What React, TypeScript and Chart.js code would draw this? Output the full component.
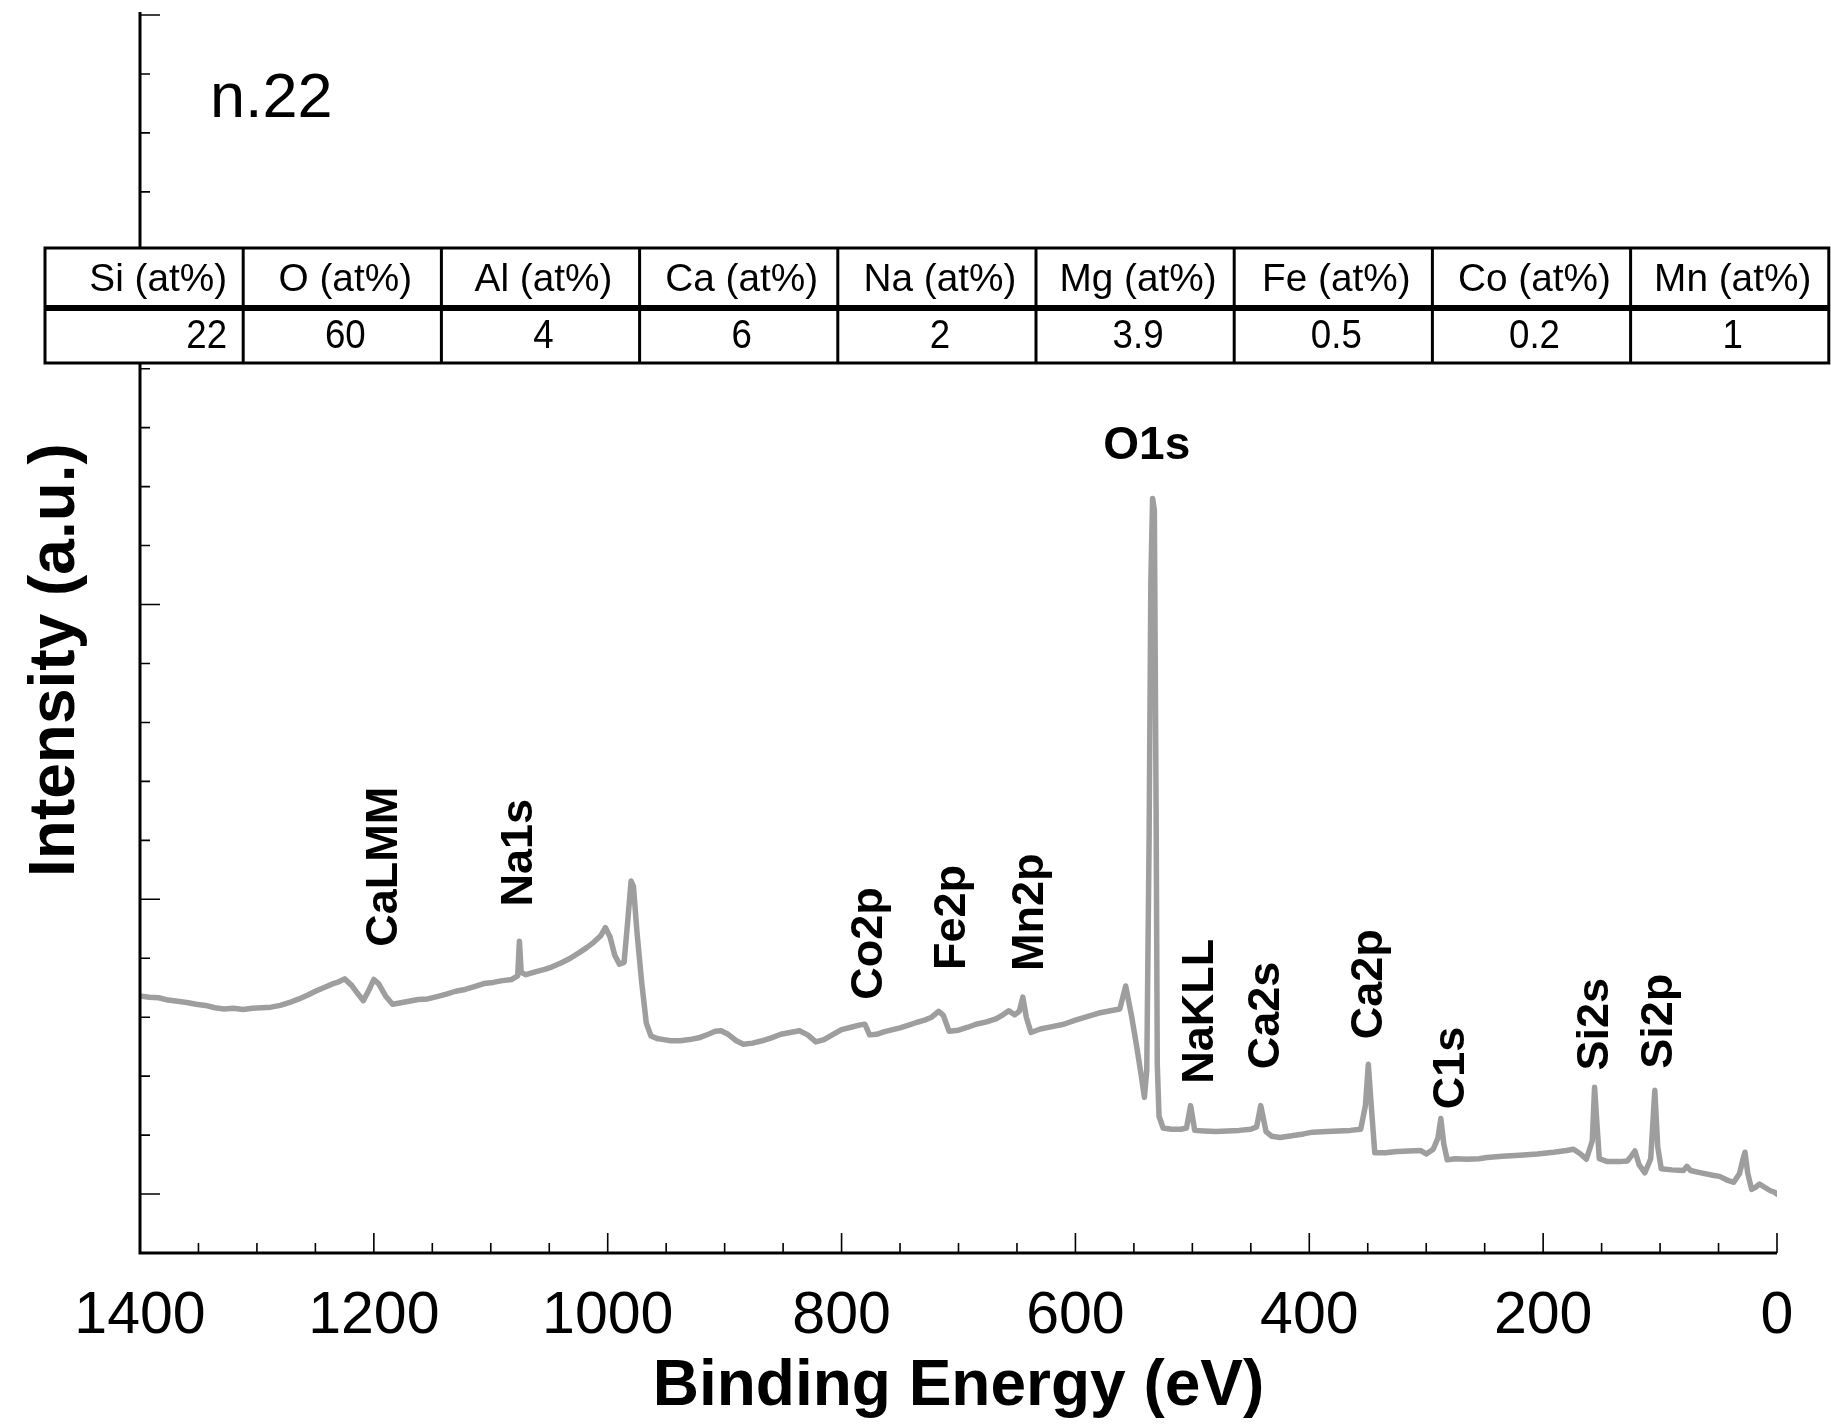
import React, { useEffect, useRef } from "react";
import { Chart, registerables } from "chart.js";

Chart.register(...registerables);

// ---------- data ----------
const energies: number[] = [
  1400, 1392, 1384, 1376, 1368, 1360, 1352, 1344, 1336, 1328, 1320, 1312, 1304, 1296, 1288, 1280,
  1272, 1264, 1256, 1250, 1243, 1236, 1230, 1225, 1219, 1213, 1209, 1204, 1200, 1196, 1190, 1184,
  1178, 1170, 1162, 1154, 1146, 1138, 1130, 1122, 1114, 1106, 1098, 1090, 1082, 1077, 1075.5, 1074,
  1070, 1062, 1054, 1048, 1040, 1032, 1024, 1018, 1012, 1006, 1002, 998, 994, 990, 986, 983,
  980, 978, 975, 971, 967, 963, 958, 952, 946, 938, 930, 922, 914, 908, 903, 897,
  890, 884, 876, 868, 860, 852, 844, 836, 829, 822, 815, 808, 800, 792, 784, 780,
  776, 770, 764, 758, 750, 742, 736, 729, 723, 717, 713, 708, 700, 692, 685, 676,
  668, 662, 657, 652, 648, 645, 642, 638, 630, 620, 610, 600, 590, 580, 570, 562,
  557, 552, 548, 544, 541, 539, 537, 535.5, 534, 532.5, 531, 530, 528.5, 525, 518, 510,
  505, 501.5, 498, 490, 480, 470, 460, 450, 445, 441.5, 437, 432, 425, 415, 405, 397,
  385, 375, 365, 356, 352, 349.5, 347, 344, 335, 325, 315, 305, 300, 294, 290, 287.5,
  285, 282, 275, 265, 255, 248, 235, 220, 205, 191, 180, 174, 168, 163, 158, 156,
  154, 152, 145, 135, 128, 124, 121.5, 118, 113, 108, 104.5, 102, 99, 90, 80, 77,
  74, 65, 55, 49, 42, 37, 32, 29, 27.4, 25, 21.7, 18, 15, 11, 6, 2, 0,
];

const intensities: number[] = [
  3.36, 3.34, 3.33, 3.29, 3.27, 3.25, 3.22, 3.2, 3.16, 3.14, 3.15, 3.13, 3.15, 3.16, 3.17, 3.2,
  3.25, 3.31, 3.38, 3.44, 3.5, 3.56, 3.6, 3.65, 3.54, 3.38, 3.28, 3.47, 3.64, 3.57, 3.36, 3.22,
  3.24, 3.27, 3.3, 3.31, 3.35, 3.39, 3.44, 3.47, 3.52, 3.57, 3.59, 3.62, 3.64, 3.7, 4.29, 3.76,
  3.72, 3.77, 3.81, 3.85, 3.92, 4.0, 4.1, 4.18, 4.27, 4.38, 4.52, 4.36, 4.05, 3.9, 3.93, 4.6,
  5.31, 5.22, 4.45, 3.6, 2.9, 2.68, 2.64, 2.62, 2.6, 2.6, 2.62, 2.65, 2.71, 2.76, 2.77, 2.71,
  2.6, 2.54, 2.56, 2.6, 2.65, 2.71, 2.74, 2.77, 2.7, 2.58, 2.62, 2.7, 2.79, 2.83, 2.87, 2.88,
  2.7, 2.71, 2.75, 2.78, 2.82, 2.87, 2.91, 2.95, 3.0, 3.1, 3.03, 2.76, 2.78, 2.83, 2.88, 2.92,
  2.97, 3.04, 3.11, 3.04, 3.1, 3.34, 3.0, 2.74, 2.8, 2.84, 2.88, 2.95, 3.01, 3.07, 3.11, 3.14,
  3.53, 3.02, 2.55, 2.05, 1.64, 2.1, 6.0, 10.4, 11.8, 11.6, 6.5, 2.2, 1.32, 1.12, 1.1, 1.1,
  1.12, 1.5, 1.08, 1.07, 1.06, 1.07, 1.08, 1.1, 1.14, 1.5, 1.06, 0.98, 0.96, 0.99, 1.02, 1.05,
  1.06, 1.07, 1.08, 1.1, 1.5, 2.2, 1.5, 0.7, 0.7, 0.72, 0.73, 0.74, 0.68, 0.76, 0.95, 1.28,
  0.85, 0.58, 0.6, 0.59, 0.6, 0.62, 0.64, 0.66, 0.68, 0.71, 0.74, 0.76, 0.68, 0.59, 0.9, 1.81,
  1.2, 0.6, 0.55, 0.55, 0.56, 0.66, 0.73, 0.5, 0.36, 0.6, 1.76, 0.8, 0.43, 0.41, 0.4, 0.47,
  0.4, 0.36, 0.32, 0.3, 0.23, 0.2, 0.35, 0.6, 0.71, 0.35, 0.08, 0.12, 0.17, 0.12, 0.06, 0.03, 0.0,
];

const xTickValues: number[] = [1400, 1200, 1000, 800, 600, 400, 200, 0];
const X_MIN = 0;
const X_MAX = 1400;
const Y_MIN = -1;
const Y_MAX = 20;
const X_MINOR_STEP = 50;
const X_MAJOR_STEP = 200;
const Y_MINOR_STEP = 1;
const Y_MAJOR_STEP = 5;

const xTitle = "Binding Energy (eV)";
const yTitle = "Intensity (a.u.)";
const sampleName = "n.22";

const tableHeaders: string[] = [
  "Si (at%)", "O (at%)", "Al (at%)", "Ca (at%)", "Na (at%)", "Mg (at%)", "Fe (at%)", "Co (at%)", "Mn (at%)",
];
const tableValues: string[] = ["22", "60", "4", "6", "2", "3.9", "0.5", "0.2", "1"];

// peak annotations (vertical text), positioned in data coordinates
const peakLabels: string[] = ["CaLMM", "Na1s", "Co2p", "Fe2p", "Mn2p", "NaKLL", "Ca2s", "Ca2p", "C1s", "Si2s", "Si2p"];
const peakLabelEnergy: number[] = [1194.4, 1078.5, 779.4, 708.4, 641.7, 495.8, 439.8, 351.7, 281.5, 158.3, 103.5];
const peakLabelIntensity: number[] = [5.55, 5.79, 4.25, 4.69, 4.78, 3.1, 3.03, 3.56, 2.14, 2.88, 2.93];
// horizontal annotation
const topLabel = "O1s";
const topLabelEnergy = 539;
const topLabelIntensity = 12.47;

const FONT = '"Liberation Sans", Arial, Helvetica, sans-serif';

function scaledText(ctx: CanvasRenderingContext2D, text: string, x: number, y: number, sx: number, sy: number) {
  ctx.save();
  ctx.translate(x, y);
  ctx.scale(sx, sy);
  ctx.fillText(text, 0, 0);
  ctx.restore();
}

const decorPlugin = {
  id: "decor",
  beforeDraw(chart: any) {
    const ctx = chart.ctx;
    ctx.save();
    ctx.fillStyle = "#ffffff";
    ctx.fillRect(0, 0, chart.width, chart.height);
    ctx.restore();
  },
  afterDraw(chart: any) {
    const ctx: CanvasRenderingContext2D = chart.ctx;
    const xs = chart.scales.x;
    const ys = chart.scales.y;
    const ca = chart.chartArea;

    ctx.save();
    // axis lines
    ctx.strokeStyle = "#000";
    ctx.lineWidth = 3;
    ctx.beginPath();
    ctx.moveTo(ca.left, ca.top - 3);
    ctx.lineTo(ca.left, ca.bottom);
    ctx.lineTo(ca.right, ca.bottom);
    ctx.stroke();

    // inward ticks
    ctx.lineWidth = 1.6;
    ctx.beginPath();
    for (let v = X_MIN; v <= X_MAX; v += X_MINOR_STEP) {
      const px = xs.getPixelForValue(v);
      const len = v % X_MAJOR_STEP === 0 ? 20 : 10;
      ctx.moveTo(px, ca.bottom);
      ctx.lineTo(px, ca.bottom - len);
    }
    for (let v = 0; v <= Y_MAX; v += Y_MINOR_STEP) {
      const py = ys.getPixelForValue(v);
      const len = v % Y_MAJOR_STEP === 0 ? 20 : 10;
      ctx.moveTo(ca.left, py);
      ctx.lineTo(ca.left + len, py);
    }
    ctx.stroke();

    // axis titles
    ctx.fillStyle = "#000";
    ctx.font = `bold 64px ${FONT}`;
    ctx.textAlign = "center";
    ctx.textBaseline = "alphabetic";
    ctx.fillText(xTitle, (ca.left + ca.right) / 2, 1405);
    ctx.save();
    ctx.translate(74, (ca.top + ca.bottom) / 2 + 26);
    ctx.rotate(-Math.PI / 2);
    ctx.fillText(yTitle, 0, 0);
    ctx.restore();

    // sample name
    ctx.font = `63px ${FONT}`;
    ctx.textAlign = "left";
    ctx.fillText(sampleName, 210, 117);

    // peak labels (vertical)
    ctx.font = `bold 45px ${FONT}`;
    ctx.textAlign = "center";
    const capH = 45 * 0.716;
    for (let i = 0; i < peakLabels.length; i++) {
      const px = xs.getPixelForValue(peakLabelEnergy[i]);
      const py = ys.getPixelForValue(peakLabelIntensity[i]);
      ctx.save();
      ctx.translate(px, py);
      ctx.rotate(-Math.PI / 2);
      ctx.fillText(peakLabels[i], 0, capH / 2);
      ctx.restore();
    }
    ctx.font = `bold 46px ${FONT}`;
    ctx.fillText(topLabel, xs.getPixelForValue(topLabelEnergy), ys.getPixelForValue(topLabelIntensity));

    // composition table
    const tLeft = 45;
    const tTop = 248;
    const colW = 198.2;
    const tMid = 308;
    const tBottom = 363;
    const n = tableHeaders.length;
    const tRight = tLeft + colW * n;
    ctx.fillStyle = "#fff";
    ctx.fillRect(tLeft, tTop, tRight - tLeft, tBottom - tTop);
    ctx.strokeStyle = "#000";
    ctx.lineWidth = 3;
    ctx.strokeRect(tLeft, tTop, tRight - tLeft, tBottom - tTop);
    ctx.beginPath();
    for (let i = 1; i < n; i++) {
      const x = tLeft + colW * i;
      ctx.moveTo(x, tTop);
      ctx.lineTo(x, tBottom);
    }
    ctx.stroke();
    ctx.lineWidth = 6;
    ctx.beginPath();
    ctx.moveTo(tLeft, tMid);
    ctx.lineTo(tRight, tMid);
    ctx.stroke();

    ctx.fillStyle = "#000";
    for (let i = 0; i < n; i++) {
      const cl = tLeft + colW * i;
      const cr = cl + colW;
      const first = i === 0;
      const tx = first ? cr - 16 : (cl + cr) / 2 + 3;
      ctx.textAlign = first ? "right" : "center";
      ctx.font = `34px ${FONT}`;
      scaledText(ctx, tableHeaders[i], tx, 291, 1.14, 1.12);
      ctx.font = `36px ${FONT}`;
      scaledText(ctx, tableValues[i], tx, 348, 1.02, 1.12);
    }
    ctx.restore();
  },
};

export default function App() {
  const canvasRef = useRef<HTMLCanvasElement | null>(null);

  useEffect(() => {
    if (!canvasRef.current) return;
    const points = energies.map((e, i) => ({ x: e, y: intensities[i] }));
    const chart = new Chart(canvasRef.current, {
      type: "line",
      data: {
        datasets: [
          {
            data: points,
            borderColor: "rgb(158,158,158)",
            borderWidth: 5.5,
            pointRadius: 0,
            tension: 0,
            fill: false,
            borderJoinStyle: "round",
            borderCapStyle: "round",
          } as any,
        ],
      },
      options: {
        animation: false,
        responsive: false,
        devicePixelRatio: 1,
        parsing: false as any,
        layout: { padding: { top: 15, right: 54, left: 0, bottom: 0 } },
        plugins: { legend: { display: false }, tooltip: { enabled: false }, title: { display: false } },
        scales: {
          x: {
            type: "linear",
            min: X_MIN,
            max: X_MAX,
            reverse: true,
            grid: { display: false, drawTicks: false },
            border: { display: false },
            ticks: {
              color: "#000",
              font: { family: FONT, size: 59 },
              padding: 28,
              maxRotation: 0,
              autoSkip: false,
              callback: (v: any) => String(v),
            },
            afterBuildTicks: (scale: any) => {
              scale.ticks = xTickValues.map((v) => ({ value: v }));
            },
            afterFit: (scale: any) => {
              scale.height = 171;
            },
          },
          y: {
            type: "linear",
            min: Y_MIN,
            max: Y_MAX,
            grid: { display: false, drawTicks: false },
            border: { display: false },
            ticks: { display: false },
            afterFit: (scale: any) => {
              scale.width = 140;
            },
          },
        },
      } as any,
      plugins: [decorPlugin],
    });
    return () => chart.destroy();
  }, []);

  return (
    <div style={{ position: "absolute", left: 0, top: 0, width: 1831, height: 1424, background: "#fff" }}>
      <canvas ref={canvasRef} width={1831} height={1424} style={{ display: "block" }} />
    </div>
  );
}
